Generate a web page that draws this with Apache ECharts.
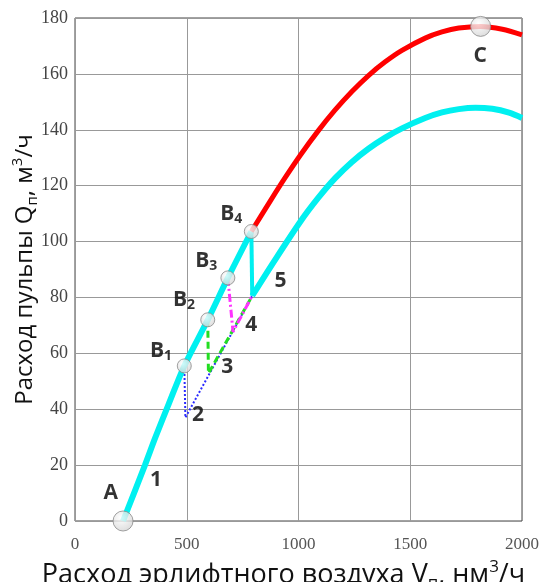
<!DOCTYPE html>
<html>
<head>
<meta charset="utf-8">
<script src="https://cdn.jsdelivr.net/npm/echarts@6/dist/echarts.min.js"></script>
<style>
    html, body {margin: 0; padding: 0; background: #fff;}
    #chart {width: 539px; height: 582px;}
</style>
</head>
<body>
<div id="chart"></div>
<script>
// оси
var xTicks = [0, 500, 1000, 1500, 2000];
var yTicks = [0, 20, 40, 60, 80, 100, 120, 140, 160, 180];

// линия 1: A -> B4 (голубая)
var line1 = [[215, 0], [313, 20], [360, 30], [420, 42], [489, 55.5], [594, 72], [684, 87], [789, 103.6]];
// линия 5: сброс из B4 и верхняя голубая кривая
var line5Drop = [[789, 103.6], [793, 80.6]];
var line5Curve = [[793, 80.6], [893, 93.2], [1008, 107.1], [1088, 115.6], [1163, 122.6], [1238, 128.4], [1313, 133.2], [1388, 137.2], [1463, 140.5], [1567, 144.2], [1642, 146.2], [1717, 147.4], [1792, 147.9], [1867, 147.5], [1942, 146.1], [2000, 144.2]];
// красная кривая B4 -> C
var redCurve = [[789, 103.6], [879, 115.2], [938, 122.6], [1008, 130.9], [1088, 139.6], [1163, 147], [1238, 153.6], [1313, 159.4], [1388, 164.3], [1463, 168.4], [1567, 172.8], [1642, 175], [1717, 176.4], [1815, 177], [1912, 176], [2000, 174]];
// переходные линии 2, 3, 4
var line2 = [[489, 55.5], [494, 37], [793, 80.6]];
var line3 = [[594, 72], [597, 52.8], [793, 80.6]];
var line4 = [[684, 87], [707, 67.7], [793, 80.6]];

// точки A, B1..B4, C
var pointNames = ['A', 'B1', 'B2', 'B3', 'B4', 'C'];
var pointCoords = [[215, 0], [489, 55.5], [594, 72], [684, 87], [789, 103.6], [1815, 177]];
var pointSizes = [20, 14, 14, 14, 14, 20];

// подписи
var labelTexts = ['A', '1', '2', '3', '4', '5', 'B1', 'B2', 'B3', 'B4', 'C'];
var labelCoords = [[160, 9.9], [362, 14.6], [550, 37.8], [681, 55], [789, 70], [919, 86], [385, 61], [488, 79], [587, 93], [699, 110], [1813, 166.5]];

var chart = echarts.init(document.getElementById('chart'));

var pointFill = new echarts.graphic.RadialGradient(0.4, 0.35, 0.75, [
    {offset: 0, color: '#ffffff'},
    {offset: 1, color: '#cfcfcf'}
]);

function lineSeries(data, color, width, type, smooth, z) {
    return {
        type: 'line',
        data: data,
        smooth: smooth,
        symbol: 'none',
        silent: true,
        z: z,
        lineStyle: {color: color, width: width, type: type}
    };
}

function nameStyle(size) {
    return {
        fontFamily: 'Open Sans',
        fontSize: size,
        color: '#111',
        lineHeight: size + 6,
        rich: {
            s: {fontFamily: 'Open Sans', fontSize: Math.round(size * 0.62), color: '#111', verticalAlign: 'bottom', lineHeight: size + 2},
            p: {fontFamily: 'Open Sans', fontSize: Math.round(size * 0.62), color: '#111', verticalAlign: 'top', lineHeight: size - 2}
        }
    };
}

var xNameStyle = nameStyle(27);
xNameStyle.padding = [0, 30, 0, 0]; // подпись оси сдвинута влево

var option = {
    animation: false,
    grid: {
        left: 75,
        right: 17,
        top: 18,
        bottom: 61,
        containLabel: false,
        outerBoundsMode: 'none',
        show: true,
        borderColor: '#444',
        borderWidth: 1
    },
    xAxis: {
        type: 'value',
        min: xTicks[0],
        max: xTicks[xTicks.length - 1],
        interval: 500,
        name: 'Расход эрлифтного воздуха V{s|п}, нм{p|3}/ч',
        nameLocation: 'middle',
        nameGap: 38,
        nameTextStyle: xNameStyle,
        axisLine: {show: false},
        axisTick: {show: false},
        axisLabel: {
            margin: 15,
            fontFamily: '"Liberation Serif", "DejaVu Serif", serif',
            fontSize: 17,
            color: '#555',
            formatter: function (v) { return String(v); }
        },
        splitLine: {show: true, lineStyle: {color: '#999', width: 1}}
    },
    yAxis: {
        type: 'value',
        min: yTicks[0],
        max: yTicks[yTicks.length - 1],
        interval: 20,
        name: 'Расход пульпы Q{s|п}, м{p|3}/ч',
        nameLocation: 'middle',
        nameMoveOverlap: false,
        nameGap: 35,
        nameTextStyle: nameStyle(24),
        axisLine: {show: false},
        axisTick: {show: false},
        axisLabel: {
            margin: 7,
            fontFamily: '"Liberation Serif", "DejaVu Serif", serif',
            fontSize: 18,
            color: '#444'
        },
        splitLine: {show: true, lineStyle: {color: '#999', width: 1}}
    },
    series: [
        lineSeries(line2, '#2b2bff', 2, 'dotted', false, 3),
        lineSeries(line3, '#22dd22', 3, [7, 4], false, 3),
        lineSeries(line4, '#ff33ff', 3, [8, 3, 2, 3], false, 3),
        lineSeries(line1, '#00f0f0', 6, 'solid', 0.3, 4),
        lineSeries(line5Drop, '#00f0f0', 4, 'solid', false, 4),
        lineSeries(line5Curve, '#00f0f0', 6, 'solid', 0.3, 4),
        lineSeries(redCurve, '#ff0000', 5, 'solid', 0.3, 4),
        {
            // точки
            type: 'scatter',
            silent: true,
            z: 6,
            data: pointCoords.map(function (c, i) {
                return {name: pointNames[i], value: c, symbolSize: pointSizes[i]};
            }),
            itemStyle: {
                color: pointFill,
                borderColor: '#8a8a8a',
                borderWidth: 1
            }
        },
        {
            // подписи
            type: 'scatter',
            silent: true,
            z: 7,
            symbolSize: 1,
            itemStyle: {color: 'rgba(0,0,0,0)'},
            data: labelCoords.map(function (c, i) {
                return {name: labelTexts[i], value: c};
            }),
            label: {
                show: true,
                position: 'inside',
                fontFamily: 'Open Sans',
                fontWeight: 'bold',
                fontSize: 21,
                color: '#000',
                formatter: function (p) {
                    var t = p.name;
                    if (t.length > 1) return t[0] + '{s|' + t.slice(1) + '}';
                    return t;
                },
                rich: {
                    s: {fontFamily: 'Open Sans', fontWeight: 'bold', fontSize: 14, color: '#000', verticalAlign: 'bottom', lineHeight: 24}
                }
            }
        }
    ]
};

chart.setOption(option);
</script>
</body>
</html>
